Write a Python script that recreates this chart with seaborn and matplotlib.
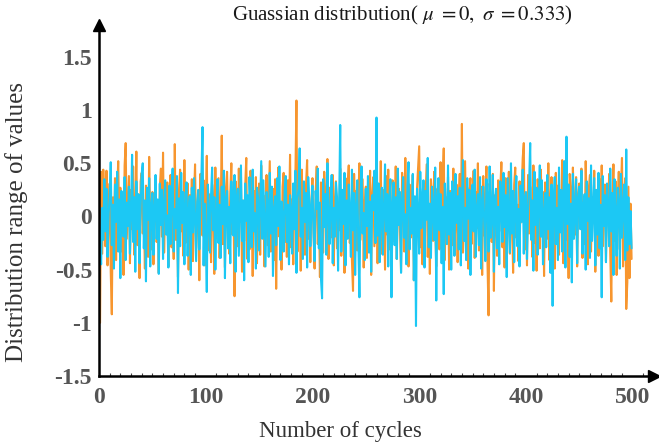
import numpy as np
import pandas as pd
import seaborn as sns
import matplotlib.pyplot as plt
from matplotlib.ticker import MultipleLocator

# values, one per cycle (0..499)
orange_vals = [
    -0.98, -1.00, 0.42, -0.35, 0.44, 0.12, -0.28, 0.43, -0.46, 0.05, 0.31, -0.52, -0.92, 0.18, -0.15, 0.36, -0.41, 0.22, 0.52, -0.08, 0.27, -0.33, 0.14, -0.55, 0.48,
    0.69, -0.21, 0.09, 0.38, -0.44, 0.25, -0.12, 0.47, -0.36, 0.03, 0.61, -0.27, 0.19, -0.58, 0.33, 0.41, -0.16, 0.07, -0.49, 0.29, 0.15, -0.38, 0.56, -0.06, -0.31,
    0.23, -0.45, 0.11, 0.37, -0.24, 0.02, -0.53, 0.28, 0.45, -0.19, 0.60, -0.34, 0.08, -0.11, 0.32, -0.47, 0.17, 0.39, -0.29, 0.04, -0.40, 0.68, -0.22, 0.13, -0.57,
    0.26, 0.44, -0.14, 0.10, -0.37, 0.53, -0.25, 0.06, 0.31, -0.50, 0.20, -0.09, 0.35, -0.42, 0.16, 0.49, -0.30, -0.04, 0.24, -0.60, 0.40, 0.01, -0.18, 0.34, -0.46,
    0.12, 0.57, -0.32, 0.21, -0.07, -0.43, 0.30, 0.18, -0.54, 0.46, -0.20, 0.09, 0.36, -0.39, 0.05, 0.76, -0.26, 0.14, -0.48, 0.27, 0.42, -0.13, -0.35, 0.22, 0.50,
    -0.17, 0.08, -0.75, 0.33, 0.19, -0.28, 0.45, -0.05, 0.38, -0.52, 0.15, -0.23, 0.29, 0.55, -0.40, 0.03, -0.31, 0.43, 0.11, -0.56, 0.24, -0.10, 0.37, -0.44, 0.06,
    0.31, -0.36, 0.48, -0.15, 0.20, -0.47, 0.02, 0.39, -0.27, 0.13, 0.52, -0.33, -0.08, 0.26, -0.41, 0.35, -0.68, 0.17, 0.46, -0.19, 0.07, -0.50, 0.28, 0.41, -0.24,
    0.10, -0.38, 0.34, -0.02, 0.58, -0.29, 0.16, -0.45, 0.22, 0.37, 1.09, -0.33, 0.04, 0.25, -0.51, 0.44, -0.12, 0.19, -0.36, 0.30, 0.53, -0.21, 0.08, -0.43, 0.14,
    0.36, -0.16, -0.49, 0.23, 0.47, -0.26, 0.12, -0.57, 0.32, 0.01, -0.34, 0.42, 0.18, -0.09, 0.54, -0.40, 0.27, -0.20, 0.05, 0.39, -0.46, 0.15, 0.33, -0.30, 0.09,
    -0.13, 0.45, -0.37, 0.21, 0.03, -0.53, 0.36, -0.18, 0.29, 0.48, -0.25, 0.11, -0.42, -0.70, 0.40, -0.07, 0.24, -0.32, 0.17, 0.50, -0.22, 0.06, 0.35, -0.48, 0.13,
    0.28, -0.39, 0.16, -0.11, 0.43, -0.55, 0.20, 0.37, -0.28, 0.02, 0.31, -0.44, 0.14, -0.06, 0.52, -0.35, 0.25, 0.08, -0.50, 0.38, -0.17, 0.44, -0.31, 0.10, -0.58,
    0.34, 0.19, -0.24, 0.47, -0.40, 0.07, 0.26, -0.14, -0.52, 0.41, 0.15, -0.33, 0.55, -0.03, 0.22, -0.47, 0.30, -0.20, 0.12, 0.39, -0.60, 0.05, -0.36, 0.27, 0.46,
    0.66, -0.29, 0.13, -0.45, 0.32, -0.08, 0.21, 0.49, -0.38, 0.04, -0.54, 0.35, 0.17, -0.23, 0.42, -0.12, -0.47, 0.26, 0.09, -0.31, 0.51, -0.19, 0.33, 0.64, -0.41,
    0.18, -0.05, 0.37, -0.50, 0.24, 0.11, -0.27, 0.45, -0.36, 0.02, 0.30, -0.43, 0.16, 0.40, -0.21, 0.87, -0.34, 0.08, 0.52, -0.15, 0.27, -0.49, 0.19, 0.36, -0.26,
    0.06, 0.43, -0.39, 0.23, -0.11, 0.50, -0.32, 0.14, 0.28, -0.55, 0.38, -0.18, 0.09, 0.47, -0.44, -0.93, 0.31, 0.12, -0.24, 0.40, -0.70, 0.20, 0.03, -0.37, 0.34,
    -0.14, 0.25, 0.51, -0.29, 0.07, -0.48, 0.36, 0.17, -0.09, 0.42, -0.35, 0.22, 0.01, -0.53, 0.30, 0.46, -0.20, 0.11, -0.42, 0.33, -0.06, 0.24, 0.55, 0.69, -0.31,
    0.15, -0.46, 0.39, -0.16, 0.28, 0.04, -0.38, 0.48, -0.25, 0.19, -0.51, 0.35, 0.10, -0.30, 0.44, -0.07, 0.23, -0.56, 0.32, 0.08, -0.21, 0.50, -0.41, 0.16, 0.37,
    -0.27, 0.12, -0.49, 0.41, 0.02, 0.29, -0.36, 0.21, -0.13, 0.53, -0.44, 0.18, 0.34, -0.22, 0.06, -0.58, 0.40, 0.25, -0.32, 0.46, 0.11, -0.17, 0.37, -0.47, 0.20,
    0.31, -0.10, 0.45, -0.39, 0.14, -0.26, 0.52, 0.07, -0.45, 0.27, 0.39, -0.33, 0.18, -0.05, 0.43, -0.52, 0.22, 0.09, -0.37, 0.35, -0.19, 0.48, -0.28, 0.13, 0.30,
    -0.42, 0.24, 0.05, 0.40, -0.34, -0.80, 0.17, 0.49, -0.23, 0.33, -0.55, 0.10, 0.42, -0.31, 0.26, 0.55, -0.47, 0.19, 0.36, -0.87, -0.62, 0.28, -0.58, 0.12, -0.40,
]

cyan_vals = [
    0.14, -0.31, -0.45, 0.08, -0.22, 0.35, -0.14, 0.26, -0.38, 0.02, 0.19, 0.51, -0.27, 0.11, -0.49, 0.30, -0.05, 0.42, -0.33, 0.16, -0.58, 0.24, 0.07, -0.19, 0.37,
    -0.41, 0.13, -0.09, 0.28, -0.35, 0.04, 0.58, -0.24, 0.18, -0.52, 0.33, -0.12, 0.21, -0.44, 0.09, 0.40, 0.50, -0.30, 0.15, -0.61, 0.27, -0.03, 0.36, -0.47, 0.10,
    0.22, -0.36, 0.05, 0.39, -0.21, 0.16, -0.54, 0.31, -0.08, 0.25, -0.40, 0.12, 0.34, -0.17, 0.01, -0.48, 0.29, -0.26, 0.20, 0.45, -0.33, 0.07, -0.11, 0.38, -0.72,
    0.17, -0.28, 0.41, -0.06, 0.23, -0.45, 0.10, 0.32, -0.37, 0.04, 0.19, -0.55, 0.27, -0.15, 0.36, -0.02, -0.42, 0.14, 0.25, -0.31, 0.08, 0.40, 0.84, -0.46, 0.12,
    -0.20, -0.71, 0.30, 0.06, -0.34, 0.21, 0.46, -0.13, 0.18, -0.50, 0.02, 0.35, -0.25, 0.11, -0.39, 0.28, -0.07, 0.43, -0.58, 0.16, 0.24, -0.30, 0.09, -0.44, 0.33,
    0.05, -0.18, 0.39, -0.52, 0.13, 0.26, -0.37, 0.07, 0.48, -0.23, 0.15, -0.60, 0.31, -0.04, 0.20, -0.43, 0.37, 0.10, -0.29, 0.44, -0.14, 0.03, -0.49, 0.27, 0.18,
    -0.32, 0.09, 0.52, -0.21, 0.34, -0.06, -0.47, 0.23, 0.12, -0.38, 0.41, -0.16, 0.28, -0.56, 0.06, 0.19, -0.27, 0.36, -0.09, 0.47, -0.41, 0.14, 0.01, -0.33, 0.25,
    0.38, -0.24, 0.11, -0.45, 0.20, 0.04, -0.35, 0.31, -0.12, 0.43, -0.53, 0.17, 0.26, 0.64, -0.19, 0.08, -0.40, 0.33, -0.05, 0.22, -0.48, 0.37, 0.15, -0.28, 0.10,
    0.29, -0.15, -0.42, 0.24, 0.07, 0.45, -0.30, 0.13, -0.59, -0.77, 0.35, -0.10, 0.21, -0.36, 0.50, 0.02, -0.26, 0.16, 0.39, -0.44, 0.08, -0.19, 0.32, 0.18, -0.51,
    0.12, 0.86, -0.33, 0.25, -0.07, 0.41, -0.46, 0.15, -0.21, 0.30, 0.05, -0.38, 0.44, -0.13, 0.22, -0.55, 0.09, 0.34, -0.28, -0.76, 0.19, 0.47, -0.16, 0.03, -0.41,
    0.26, -0.09, 0.38, -0.34, 0.14, -0.52, 0.20, 0.06, 0.43, -0.25, 0.93, -0.18, 0.31, -0.43, 0.11, 0.27, -0.36, 0.04, 0.49, -0.14, 0.21, -0.47, 0.16, 0.35, -0.76,
    0.10, 0.32, -0.27, 0.18, -0.40, 0.45, -0.08, 0.23, -0.53, 0.13, 0.37, -0.20, 0.02, -0.45, 0.29, 0.51, -0.31, 0.08, -0.16, 0.40, -0.60, 0.19, -1.03, 0.26, 0.06,
    -0.35, 0.42, -0.11, 0.17, 0.34, -0.48, 0.24, -0.03, 0.55, -0.29, 0.12, -0.39, 0.28, 0.07, -0.22, 0.46, -0.79, 0.15, 0.36, -0.13, 0.21, -0.44, 0.09, -0.73, 0.31,
    0.04, -0.26, 0.48, -0.17, 0.22, -0.50, 0.33, 0.11, -0.37, 0.40, -0.06, 0.19, -0.31, 0.27, -0.46, 0.14, 0.53, -0.23, 0.08, -0.41, 0.36, -0.02, 0.25, -0.55, 0.16,
    0.30, -0.14, 0.44, -0.38, 0.05, 0.21, -0.27, 0.37, -0.49, 0.12, 0.28, -0.09, -0.42, 0.35, 0.18, -0.33, 0.47, -0.20, 0.03, 0.39, -0.52, 0.15, 0.26, -0.30, 0.09,
    -0.45, 0.33, 0.13, -0.24, 0.41, -0.10, 0.20, -0.57, 0.36, 0.02, -0.34, 0.50, -0.16, 0.24, -0.43, 0.11, 0.38, -0.28, 0.07, -0.47, 0.29, -0.05, 0.44, -0.35, 0.17,
    0.23, -0.40, 0.06, 0.31, 0.69, -0.22, 0.15, -0.51, 0.42, -0.08, 0.27, -0.36, 0.10, 0.48, -0.19, 0.34, -0.45, 0.01, 0.22, -0.29, 0.39, -0.12, 0.18, -0.53, 0.30,
    -0.84, 0.14, 0.37, -0.26, 0.08, -0.41, 0.46, -0.15, 0.25, -0.33, 0.19, 0.52, -0.48, 0.75, -0.07, 0.30, -0.38, 0.12, -0.62, 0.40, -0.21, 0.04, 0.35, -0.44, 0.16,
    0.28, -0.12, 0.43, -0.35, 0.09, 0.21, -0.50, 0.33, -0.04, 0.17, -0.39, 0.48, -0.23, 0.06, 0.36, -0.46, 0.25, -0.17, 0.41, -0.30, 0.11, -0.76, 0.38, -0.09, 0.20,
    -0.43, 0.31, 0.07, -0.28, 0.45, -0.14, 0.22, -0.55, 0.35, 0.02, -0.37, 0.27, 0.13, -0.49, 0.40, -0.20, 0.09, 0.30, -0.41, 0.63, -0.32, 0.18, -0.26, 0.05, -0.30,
]

cycles = list(range(len(orange_vals)))
x_ticks = [0, 100, 200, 300, 400, 500]
y_ticks = [-1.5, -1, -0.5, 0, 0.5, 1, 1.5]
y_tick_labels = ['-1.5', '-1', '-0.5', '0', '0.5', '1', '1.5']

df = pd.DataFrame({'cycle': cycles, 'orange': orange_vals, 'cyan': cyan_vals})

sns.set_theme(style='white')
plt.rcParams['font.family'] = ['Liberation Serif', 'DejaVu Serif']
plt.rcParams['mathtext.fontset'] = 'stix'

fig = plt.figure(figsize=(6.59, 4.44), dpi=100)
ax = fig.add_axes([99 / 659, 68 / 444, 555 / 659, 351 / 444])

sns.lineplot(data=df, x='cycle', y='orange', color='#f7962f', linewidth=1.5, ax=ax)
sns.lineplot(data=df, x='cycle', y='cyan', color='#1cc8f4', linewidth=1.5, ax=ax)

ax.set_xlim(0, 520)
ax.set_ylim(-1.5, 1.8)
ax.set_xlabel('')
ax.set_ylabel('')

ax.spines['top'].set_visible(False)
ax.spines['right'].set_visible(False)
for s in ['left', 'bottom']:
    ax.spines[s].set_color('black')
    ax.spines[s].set_linewidth(1.8)

# arrow heads at the end of both axes
ax.plot(1, 0, '>', color='black', markersize=9, transform=ax.transAxes, clip_on=False)
ax.plot(0, 1, '^', color='black', markersize=9, transform=ax.transAxes, clip_on=False)

ax.set_xticks(x_ticks)
ax.set_xticklabels([str(t) for t in x_ticks])
ax.set_yticks(y_ticks)
ax.set_yticklabels(y_tick_labels)
ax.xaxis.set_minor_locator(MultipleLocator(10))
ax.tick_params(axis='both', which='major', direction='in', length=4, width=1, color='#444444',
               labelsize=17, labelcolor='#555555')
ax.tick_params(axis='x', which='major', pad=8)
ax.tick_params(axis='y', which='major', pad=5)
ax.tick_params(axis='x', which='minor', direction='in', length=2, width=0.8, color='#444444', bottom=True)
for lab in ax.get_xticklabels() + ax.get_yticklabels():
    lab.set_fontweight('bold')

fig.text(402 / 659, 0.99, r'Guassian distribution( $\mathit{\mu\ {=}0,\ \sigma\ {=}0.333}$)',
         ha='center', va='top', fontsize=15, color='#1a1a1a')
fig.text(340 / 659, 0.005, 'Number of cycles', ha='center', va='bottom', fontsize=16.5, color='#333333')
fig.text(0.008, 222 / 444, 'Distribution range of values', rotation=90, ha='left', va='center',
         fontsize=18, color='#333333')

plt.savefig('out.png', dpi=100)
